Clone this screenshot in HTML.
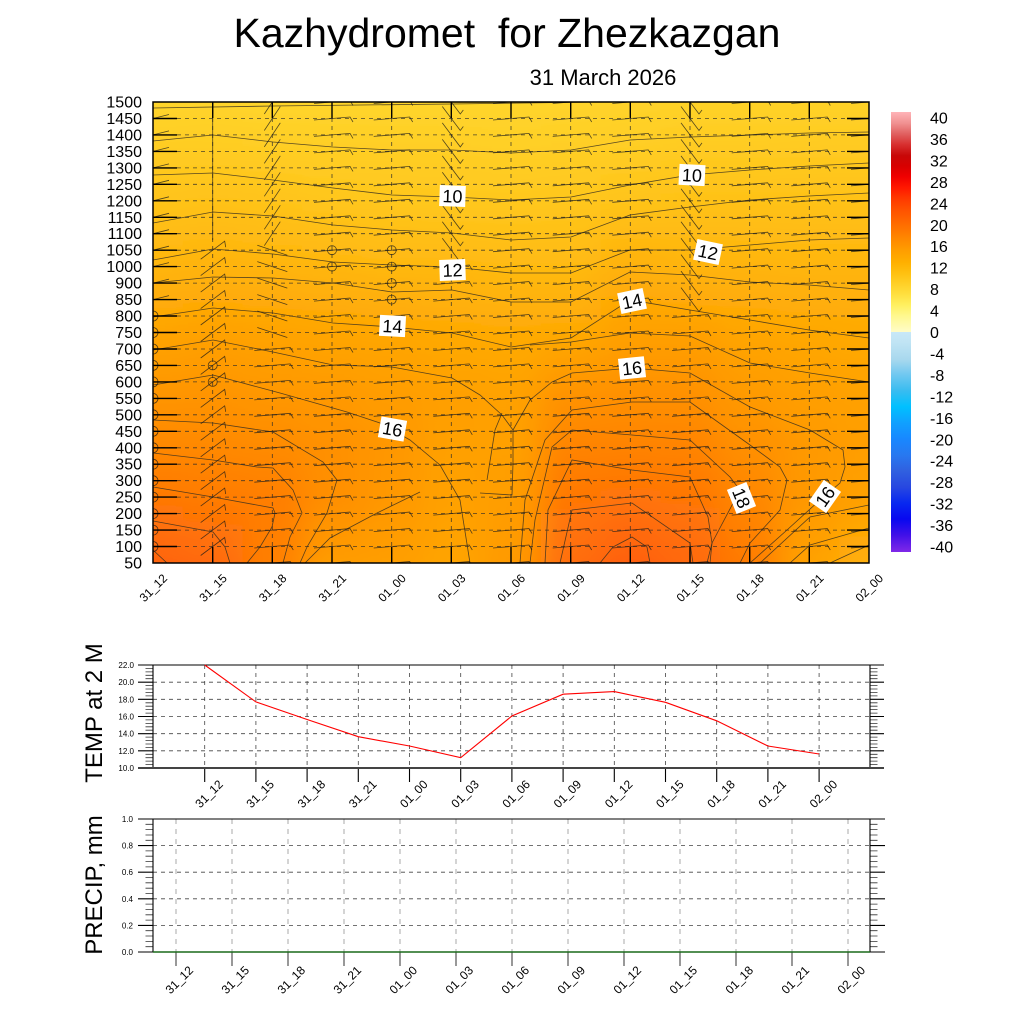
<!DOCTYPE html>
<html><head><meta charset="utf-8"><style>html,body{margin:0;padding:0;background:#fff}svg{display:block}</style></head><body>
<svg xmlns="http://www.w3.org/2000/svg" width="1024" height="1024" viewBox="0 0 1024 1024" font-family="'Liberation Sans', Arial, sans-serif">
<defs>
<linearGradient id="g0" gradientUnits="userSpaceOnUse" x1="0" y1="102" x2="0" y2="563"><stop offset="0" stop-color="rgb(255,213,44)"/><stop offset=".104" stop-color="rgb(255,204,35)"/><stop offset=".213" stop-color="rgb(255,196,26)"/><stop offset=".358" stop-color="rgb(255,181,14)"/><stop offset=".495" stop-color="rgb(255,165,3)"/><stop offset=".646" stop-color="rgb(255,148,0)"/><stop offset=".755" stop-color="rgb(255,135,0)"/><stop offset=".863" stop-color="rgb(255,120,6)"/><stop offset="1" stop-color="rgb(255,100,14)"/></linearGradient>
<linearGradient id="g1" gradientUnits="userSpaceOnUse" x1="0" y1="102" x2="0" y2="563"><stop offset="0" stop-color="rgb(255,212,43)"/><stop offset=".104" stop-color="rgb(255,204,34)"/><stop offset=".213" stop-color="rgb(255,194,25)"/><stop offset=".358" stop-color="rgb(255,179,12)"/><stop offset=".495" stop-color="rgb(255,162,2)"/><stop offset=".646" stop-color="rgb(255,147,0)"/><stop offset=".755" stop-color="rgb(255,136,0)"/><stop offset=".863" stop-color="rgb(255,123,4)"/><stop offset="1" stop-color="rgb(255,106,11)"/></linearGradient>
<linearGradient id="g2" gradientUnits="userSpaceOnUse" x1="0" y1="102" x2="0" y2="563"><stop offset="0" stop-color="rgb(255,213,44)"/><stop offset=".104" stop-color="rgb(255,205,36)"/><stop offset=".213" stop-color="rgb(255,196,26)"/><stop offset=".358" stop-color="rgb(255,180,13)"/><stop offset=".495" stop-color="rgb(255,164,3)"/><stop offset=".646" stop-color="rgb(255,150,0)"/><stop offset=".755" stop-color="rgb(255,138,0)"/><stop offset=".863" stop-color="rgb(255,126,3)"/><stop offset="1" stop-color="rgb(255,127,3)"/></linearGradient>
<linearGradient id="g3" gradientUnits="userSpaceOnUse" x1="0" y1="102" x2="0" y2="563"><stop offset="0" stop-color="rgb(255,213,44)"/><stop offset=".104" stop-color="rgb(255,206,36)"/><stop offset=".213" stop-color="rgb(255,198,28)"/><stop offset=".358" stop-color="rgb(255,182,15)"/><stop offset=".495" stop-color="rgb(255,166,3)"/><stop offset=".646" stop-color="rgb(255,152,0)"/><stop offset=".755" stop-color="rgb(255,144,0)"/><stop offset=".863" stop-color="rgb(255,143,0)"/><stop offset="1" stop-color="rgb(255,156,0)"/></linearGradient>
<linearGradient id="g4" gradientUnits="userSpaceOnUse" x1="0" y1="102" x2="0" y2="563"><stop offset="0" stop-color="rgb(255,213,44)"/><stop offset=".104" stop-color="rgb(255,206,37)"/><stop offset=".213" stop-color="rgb(255,199,29)"/><stop offset=".358" stop-color="rgb(255,184,16)"/><stop offset=".495" stop-color="rgb(255,167,4)"/><stop offset=".646" stop-color="rgb(255,156,0)"/><stop offset=".755" stop-color="rgb(255,151,0)"/><stop offset=".863" stop-color="rgb(255,152,0)"/><stop offset="1" stop-color="rgb(255,158,1)"/></linearGradient>
<linearGradient id="g5" gradientUnits="userSpaceOnUse" x1="0" y1="102" x2="0" y2="563"><stop offset="0" stop-color="rgb(255,213,44)"/><stop offset=".104" stop-color="rgb(255,206,37)"/><stop offset=".213" stop-color="rgb(255,200,30)"/><stop offset=".358" stop-color="rgb(255,184,16)"/><stop offset=".495" stop-color="rgb(255,170,5)"/><stop offset=".646" stop-color="rgb(255,159,1)"/><stop offset=".755" stop-color="rgb(255,160,1)"/><stop offset=".863" stop-color="rgb(255,161,2)"/><stop offset="1" stop-color="rgb(255,164,3)"/></linearGradient>
<linearGradient id="g6" gradientUnits="userSpaceOnUse" x1="0" y1="102" x2="0" y2="563"><stop offset="0" stop-color="rgb(255,213,44)"/><stop offset=".104" stop-color="rgb(255,207,38)"/><stop offset=".213" stop-color="rgb(255,200,30)"/><stop offset=".358" stop-color="rgb(255,186,17)"/><stop offset=".495" stop-color="rgb(255,171,6)"/><stop offset=".646" stop-color="rgb(255,161,1)"/><stop offset=".755" stop-color="rgb(255,160,1)"/><stop offset=".863" stop-color="rgb(255,157,0)"/><stop offset="1" stop-color="rgb(255,154,0)"/></linearGradient>
<linearGradient id="g7" gradientUnits="userSpaceOnUse" x1="0" y1="102" x2="0" y2="563"><stop offset="0" stop-color="rgb(255,212,43)"/><stop offset=".104" stop-color="rgb(255,206,37)"/><stop offset=".213" stop-color="rgb(255,199,29)"/><stop offset=".358" stop-color="rgb(255,186,17)"/><stop offset=".495" stop-color="rgb(255,170,5)"/><stop offset=".646" stop-color="rgb(255,145,0)"/><stop offset=".755" stop-color="rgb(255,131,1)"/><stop offset=".863" stop-color="rgb(255,119,6)"/><stop offset="1" stop-color="rgb(255,109,10)"/></linearGradient>
<linearGradient id="g8" gradientUnits="userSpaceOnUse" x1="0" y1="102" x2="0" y2="563"><stop offset="0" stop-color="rgb(255,211,42)"/><stop offset=".104" stop-color="rgb(255,205,36)"/><stop offset=".213" stop-color="rgb(255,196,26)"/><stop offset=".358" stop-color="rgb(255,177,11)"/><stop offset=".495" stop-color="rgb(255,161,1)"/><stop offset=".646" stop-color="rgb(255,143,0)"/><stop offset=".755" stop-color="rgb(255,130,2)"/><stop offset=".863" stop-color="rgb(255,115,8)"/><stop offset="1" stop-color="rgb(255,96,16)"/></linearGradient>
<linearGradient id="g9" gradientUnits="userSpaceOnUse" x1="0" y1="102" x2="0" y2="563"><stop offset="0" stop-color="rgb(255,210,40)"/><stop offset=".104" stop-color="rgb(255,203,33)"/><stop offset=".213" stop-color="rgb(255,194,24)"/><stop offset=".358" stop-color="rgb(255,180,13)"/><stop offset=".495" stop-color="rgb(255,161,2)"/><stop offset=".646" stop-color="rgb(255,143,0)"/><stop offset=".755" stop-color="rgb(255,131,1)"/><stop offset=".863" stop-color="rgb(255,118,6)"/><stop offset="1" stop-color="rgb(255,105,12)"/></linearGradient>
<linearGradient id="g10" gradientUnits="userSpaceOnUse" x1="0" y1="102" x2="0" y2="563"><stop offset="0" stop-color="rgb(255,210,40)"/><stop offset=".104" stop-color="rgb(255,203,33)"/><stop offset=".213" stop-color="rgb(255,194,24)"/><stop offset=".358" stop-color="rgb(255,180,13)"/><stop offset=".495" stop-color="rgb(255,166,3)"/><stop offset=".646" stop-color="rgb(255,153,0)"/><stop offset=".755" stop-color="rgb(255,143,0)"/><stop offset=".863" stop-color="rgb(255,134,0)"/><stop offset="1" stop-color="rgb(255,124,4)"/></linearGradient>
<linearGradient id="g11" gradientUnits="userSpaceOnUse" x1="0" y1="102" x2="0" y2="563"><stop offset="0" stop-color="rgb(255,210,40)"/><stop offset=".104" stop-color="rgb(255,202,33)"/><stop offset=".213" stop-color="rgb(255,194,24)"/><stop offset=".358" stop-color="rgb(255,181,14)"/><stop offset=".495" stop-color="rgb(255,168,4)"/><stop offset=".646" stop-color="rgb(255,158,1)"/><stop offset=".755" stop-color="rgb(255,153,0)"/><stop offset=".863" stop-color="rgb(255,153,0)"/><stop offset="1" stop-color="rgb(255,161,2)"/></linearGradient>
<linearGradient id="g12" gradientUnits="userSpaceOnUse" x1="0" y1="102" x2="0" y2="563"><stop offset="0" stop-color="rgb(255,210,40)"/><stop offset=".104" stop-color="rgb(255,202,33)"/><stop offset=".213" stop-color="rgb(255,194,24)"/><stop offset=".358" stop-color="rgb(255,181,14)"/><stop offset=".495" stop-color="rgb(255,170,5)"/><stop offset=".646" stop-color="rgb(255,161,2)"/><stop offset=".755" stop-color="rgb(255,158,1)"/><stop offset=".863" stop-color="rgb(255,161,2)"/><stop offset="1" stop-color="rgb(255,176,10)"/></linearGradient>
<linearGradient id="cb" x1="0" y1="0" x2="0" y2="1">
<stop offset="0" stop-color="#ffb4b8"/><stop offset=".026" stop-color="#f09090"/><stop offset=".05" stop-color="#e06060"/><stop offset=".074" stop-color="#d83030"/><stop offset=".099" stop-color="#c80808"/><stop offset=".123" stop-color="#d80000"/><stop offset=".147" stop-color="#f00000"/><stop offset=".172" stop-color="#ff1800"/><stop offset=".196" stop-color="#ff3800"/><stop offset=".22" stop-color="#ff5000"/><stop offset=".245" stop-color="#ff6400"/><stop offset=".269" stop-color="#ff7800"/><stop offset=".293" stop-color="#ff8c00"/><stop offset=".318" stop-color="#ffa000"/><stop offset=".342" stop-color="#ffb000"/><stop offset=".366" stop-color="#ffc010"/><stop offset=".391" stop-color="#ffd028"/><stop offset=".415" stop-color="#ffe040"/><stop offset=".439" stop-color="#fff060"/><stop offset=".464" stop-color="#fff890"/><stop offset=".5" stop-color="#fffcc8"/><stop offset=".5" stop-color="#c8e8f8"/><stop offset=".524" stop-color="#c0e4f4"/><stop offset=".5625" stop-color="#a8d8ee"/><stop offset=".597" stop-color="#70c8f0"/><stop offset=".634" stop-color="#38bcf0"/><stop offset=".67" stop-color="#00c0ff"/><stop offset=".707" stop-color="#10a0ff"/><stop offset=".743" stop-color="#1888ff"/><stop offset=".78" stop-color="#2878f0"/><stop offset=".816" stop-color="#3060e0"/><stop offset=".852" stop-color="#2848e0"/><stop offset=".889" stop-color="#0828f0"/><stop offset=".925" stop-color="#0808f0"/><stop offset=".961" stop-color="#4010e8"/><stop offset="1" stop-color="#8028e8"/>
</linearGradient>
<filter id="hb" filterUnits="userSpaceOnUse" x="60" y="90" width="900" height="490"><feGaussianBlur stdDeviation="16 0"/></filter>
<clipPath id="cp"><rect x="153" y="102" width="716" height="461"/></clipPath>
<path id="bhA" d="M-18 564.5l36-3l3 5M-18 548l36-3l3 5M-18 531.6l36-3l3 5M-18 515.1l36-3l3 5M-18 498.6l36-3l3 5M-18 482.2l36-3l3 5M-18 465.7l36-3l3 5M-18 449.3l36-3l3 5M-18 432.8l36-3l3 5M-18 416.3l36-3l3 5M-18 399.9l36-3l3 5M-18 383.4l36-3l3 5M-18 366.9l36-3l3 5M-18 350.5l36-3l3 5"/>
<path id="bhB" d="M-18 334l36-3l3 5M-18 317.5l36-3l3 5"/>
<path id="bhC" d="M-18 301.1l36-3l3 5M-18 284.6l36-3l3 5M-18 268.1l36-3l3 5"/>
<path id="bhD" d="M-18 251.7l36-3l3 5M-18 235.2l36-3l3 5M-18 218.8l36-3l3 5M-18 202.3l36-3l3 5M-18 185.8l36-3l3 5M-18 169.4l36-3l3 5M-18 152.9l36-3l3 5M-18 136.4l36-3l3 5M-18 120l36-3l3 5M-18 103.5l36-3l3 5"/>
<path id="bbC" d="M-9 287.6l18 24l3-4M-9 271.1l18 24l3-4M-9 254.6l18 24l3-4"/>
<path id="bbD" d="M-9 238.2l18 24l3-4M-9 221.7l18 24l3-4M-9 205.3l18 24l3-4M-9 188.8l18 24l3-4M-9 172.3l18 24l3-4M-9 155.9l18 24l3-4M-9 139.4l18 24l3-4M-9 122.9l18 24l3-4M-9 106.5l18 24l3-4M-9 90l18 24l3-4"/>
</defs>

<rect width="1024" height="1024" fill="#fff"/>

<!-- Title -->
<text x="507" y="47" font-size="41" text-anchor="middle" xml:space="preserve" style="white-space:pre" fill="#000">Kazhydromet  for Zhezkazgan</text>
<text x="603" y="85" font-size="22" text-anchor="middle" fill="#000">31 March 2026</text>

<!-- Main field -->
<g clip-path="url(#cp)">
<g filter="url(#hb)">
<rect x="60" y="102" width="123" height="461" fill="url(#g0)"/>
<rect x="182.8" y="102" width="60" height="461" fill="url(#g1)"/>
<rect x="242.5" y="102" width="60" height="461" fill="url(#g2)"/>
<rect x="302.2" y="102" width="60" height="461" fill="url(#g3)"/>
<rect x="361.8" y="102" width="60" height="461" fill="url(#g4)"/>
<rect x="421.5" y="102" width="60" height="461" fill="url(#g5)"/>
<rect x="481.2" y="102" width="60" height="461" fill="url(#g6)"/>
<rect x="540.8" y="102" width="60" height="461" fill="url(#g7)"/>
<rect x="600.5" y="102" width="60" height="461" fill="url(#g8)"/>
<rect x="660.2" y="102" width="60" height="461" fill="url(#g9)"/>
<rect x="719.8" y="102" width="60" height="461" fill="url(#g10)"/>
<rect x="779.5" y="102" width="60" height="461" fill="url(#g11)"/>
<rect x="839.2" y="102" width="121" height="461" fill="url(#g12)"/>
</g>

<!-- contours -->
<g fill="none" stroke="#3a3020" stroke-width="0.8" stroke-opacity="0.85">
<polyline points="153,108 273,106 452,104 600,102"/>
<polyline points="153,141 213,135 273,142 333,147 392,150 452,150 511,153 571,150 630,140 690,137 750,135 809,133 869,132"/>
<polyline points="153,175 213,173 273,180 333,188 392,195 452,197 511,200 571,197 630,185 690,175 750,170 809,166 869,163"/>
<polyline points="153,223 213,212 273,216 333,225 392,230 452,233 511,240 571,237 630,215 690,207 750,200 809,196 869,193"/>
<polyline points="153,260 213,249 273,254 333,262 392,265 452,267 511,273 571,273 630,250 690,250 750,245 809,240 869,238"/>
<polyline points="153,283 213,277 273,278 333,283 392,292 452,290 511,302 571,302 630,272 690,275 750,282 809,285 869,290"/>
<polyline points="153,317 213,308 273,313 333,323 392,327 452,333 511,347 571,338 630,300 690,310 750,320 809,330 869,338"/>
<polyline points="153,350 213,340 273,352 333,365 392,367 452,378 480,395 502,415 513,430 513,463 512,495 480,493"/>
<polyline points="530,345 571,342 630,333 690,336 750,363 810,373 869,382"/>
<polyline points="153,385 213,375 280,393 347,412 380,423 410,440 440,465 460,500 470,563"/>
<polyline points="487,480 495,430 502,413"/>
<polyline points="513,430 530,400 552,382 572,373 632,368 690,373 750,407 810,430 843,450 845,467 840,483 820,500 787,530 750,563"/>
<polyline points="153,420 213,423 273,432 323,462 337,480 327,513 307,547 300,563"/>
<polyline points="520,563 525,500 545,440 572,410 632,402 690,402 750,445 780,467 787,480 780,510 750,543 740,563"/>
<polyline points="153,453 213,460 257,467 273,468 293,490 302,513 290,537 283,563"/>
<polyline points="530,563 535,520 552,447 572,430 632,435 690,440 730,477 740,490 712,543 707,563"/>
<polyline points="153,487 213,497 273,508 275,513 272,527 260,547 247,563"/>
<polyline points="545,563 548,510 572,460 632,470 690,477 708,517 712,543 710,563"/>
<polyline points="153,521 213,532 225,547 230,563"/>
<polyline points="560,563 572,510 632,503 690,543 693,563"/>
<polyline points="153,550 167,563"/>
<polyline points="600,563 613,547 632,537 647,547 650,563"/>
<polyline points="305,563 330,538 377,513 420,492"/>
<polyline points="760,563 810,517 869,505"/>
<polyline points="790,563 810,545 869,528"/>
<polyline points="830,563 869,545"/>
</g>

<!-- dashed grid -->
<path fill="none" stroke="#2a2a2a" stroke-width="0.8" stroke-dasharray="4 4" stroke-opacity="0.85" d="M153 546.5H869M153 530.1H869M153 513.6H869M153 497.1H869M153 480.7H869M153 464.2H869M153 447.8H869M153 431.3H869M153 414.8H869M153 398.4H869M153 381.9H869M153 365.4H869M153 349H869M153 332.5H869M153 316H869M153 299.6H869M153 283.1H869M153 266.6H869M153 250.2H869M153 233.7H869M153 217.3H869M153 200.8H869M153 184.3H869M153 167.9H869M153 151.4H869M153 134.9H869M153 118.5H869M212.7 102V563M272.3 102V563M332 102V563M391.7 102V563M451.3 102V563M511 102V563M570.7 102V563M630.3 102V563M690 102V563M749.7 102V563M809.3 102V563"/>

<!-- wind barbs -->
<g fill="none" stroke="#1a1a1a" stroke-width="0.8" stroke-opacity="0.75">
<use href="#bhA" x="272.3"/>
<use href="#bhA" x="332"/><use href="#bhB" x="332"/><use href="#bhC" x="332"/><use href="#bhD" x="332"/>
<use href="#bhA" x="391.7"/><use href="#bhB" x="391.7"/><use href="#bhC" x="391.7"/><use href="#bhD" x="391.7"/>
<use href="#bhA" x="451.3"/><use href="#bhB" x="451.3"/><use href="#bhC" x="451.3"/><use href="#bbD" x="451.3"/>
<use href="#bhA" x="511"/><use href="#bhB" x="511"/><use href="#bhC" x="511"/><use href="#bhD" x="511"/>
<use href="#bhA" x="570.7"/><use href="#bhB" x="570.7"/><use href="#bhC" x="570.7"/><use href="#bhD" x="570.7"/>
<use href="#bhA" x="630.3"/><use href="#bhB" x="630.3"/><use href="#bhC" x="630.3"/><use href="#bhD" x="630.3"/>
<use href="#bhA" x="690"/><use href="#bhB" x="690"/><use href="#bbC" x="690"/><use href="#bbD" x="690"/>
<use href="#bhA" x="749.7"/><use href="#bhB" x="749.7"/><use href="#bhC" x="749.7"/><use href="#bhD" x="749.7"/>
<use href="#bhA" x="809.3"/><use href="#bhB" x="809.3"/><use href="#bhC" x="809.3"/><use href="#bhD" x="809.3"/>
<use href="#bhA" x="869"/><use href="#bhB" x="869"/><use href="#bhC" x="869"/><use href="#bhD" x="869"/>
<path transform="translate(212.7 0)" d="M-12 555.5l24-18l1 6M-12 539.1l24-18l1 6M-12 522.6l24-18l1 6M-12 506.1l24-18l1 6M-12 489.7l24-18l1 6M-12 473.2l24-18l1 6M-12 456.8l24-18l1 6M-12 440.3l24-18l1 6M-12 423.8l24-18l1 6M-12 407.4l24-18l1 6M-12 390.9l24-18l1 6M-12 374.4l24-18l1 6M-12 358l24-18l1 6M-12 341.5l24-18l1 6M-12 325l24-18l1 6M-12 308.6l24-18l1 6M-12 292.1l24-18l1 6M-12 275.6l24-18l1 6M-12 259.2l24-18l1 6M0 102V240"/>
<path transform="translate(272.3 0)" d="M-8 245.7l16-24M-8 229.3l16-24M-8 212.8l16-24M-8 196.3l16-24M-8 179.9l16-24M-8 163.4l16-24M-8 146.9l16-24M-8 130.5l16-24M-8 114l16-24M-15 327.5l30 10M-15 311l30 10M-15 294.6l30 10M-15 278.1l30 10M-15 261.6l30 10M-15 245.2l30 10"/>
<path transform="translate(153 0)" d="M0 299.6l16-4M0 283.1l16-4M0 266.6l16-4M0 250.2l16-4M0 233.7l16-4M0 217.3l16-4M0 200.8l16-4M0 184.3l16-4M0 167.9l16-4M0 151.4l16-4M0 134.9l16-4M0 118.5l16-4"/>
<g stroke-width="0.8">
<circle cx="153" cy="546.5" r="5"/><circle cx="153" cy="530.1" r="5"/><circle cx="153" cy="513.6" r="5"/><circle cx="153" cy="497.1" r="5"/><circle cx="153" cy="480.7" r="5"/><circle cx="153" cy="464.2" r="5"/><circle cx="153" cy="447.8" r="5"/><circle cx="153" cy="431.3" r="5"/><circle cx="153" cy="414.8" r="5"/><circle cx="153" cy="398.4" r="5"/><circle cx="153" cy="381.9" r="5"/><circle cx="153" cy="365.4" r="5"/><circle cx="153" cy="349" r="5"/><circle cx="153" cy="332.5" r="5"/><circle cx="153" cy="316" r="5"/>
<circle cx="332" cy="250.2" r="4.5"/><circle cx="332" cy="266.6" r="4.5"/><circle cx="391.7" cy="250.2" r="4.5"/><circle cx="391.7" cy="266.6" r="4.5"/><circle cx="391.7" cy="283.1" r="4.5"/><circle cx="391.7" cy="299.6" r="4.5"/><circle cx="212.7" cy="365.4" r="4.5"/><circle cx="212.7" cy="381.9" r="4.5"/>
</g>
</g>

<!-- contour labels -->
<g font-size="18" text-anchor="middle" fill="#000">
<g transform="translate(452.5 196) rotate(2)"><rect x="-13" y="-10.5" width="26" height="21" fill="#fff"/><text y="6.5">10</text></g>
<g transform="translate(452.5 270) rotate(-2)"><rect x="-13" y="-10.5" width="26" height="21" fill="#fff"/><text y="6.5">12</text></g>
<g transform="translate(392.5 326) rotate(3)"><rect x="-13" y="-10.5" width="26" height="21" fill="#fff"/><text y="6.5">14</text></g>
<g transform="translate(392.5 429) rotate(10)"><rect x="-13" y="-10.5" width="26" height="21" fill="#fff"/><text y="6.5">16</text></g>
<g transform="translate(692 175) rotate(3)"><rect x="-13" y="-10.5" width="26" height="21" fill="#fff"/><text y="6.5">10</text></g>
<g transform="translate(708 252) rotate(12)"><rect x="-13" y="-10.5" width="26" height="21" fill="#fff"/><text y="6.5">12</text></g>
<g transform="translate(632 301) rotate(-12)"><rect x="-13" y="-10.5" width="26" height="21" fill="#fff"/><text y="6.5">14</text></g>
<g transform="translate(632 368) rotate(-6)"><rect x="-13" y="-10.5" width="26" height="21" fill="#fff"/><text y="6.5">16</text></g>
<g transform="translate(741.5 498) rotate(68)"><rect x="-13" y="-10.5" width="26" height="21" fill="#fff"/><text y="6.5">18</text></g>
<g transform="translate(825 496.5) rotate(-55)"><rect x="-13" y="-10.5" width="26" height="21" fill="#fff"/><text y="6.5">16</text></g>
</g>
</g>

<!-- main axis ticks and frame -->
<path fill="none" stroke="#000" stroke-width="1.4" d="M153 546.5h24M153 530.1h24M153 513.6h24M153 497.1h24M153 480.7h24M153 464.2h24M153 447.8h24M153 431.3h24M153 414.8h24M153 398.4h24M153 381.9h24M153 365.4h24M153 349h24M153 332.5h24M153 316h24M153 299.6h24M153 283.1h24M153 266.6h24M153 250.2h24M153 233.7h24M153 217.3h24M153 200.8h24M153 184.3h24M153 167.9h24M153 151.4h24M153 134.9h24M153 118.5h24M869 546.5h-22M869 530.1h-22M869 513.6h-22M869 497.1h-22M869 480.7h-22M869 464.2h-22M869 447.8h-22M869 431.3h-22M869 414.8h-22M869 398.4h-22M869 381.9h-22M869 365.4h-22M869 349h-22M869 332.5h-22M869 316h-22M869 299.6h-22M869 283.1h-22M869 266.6h-22M869 250.2h-22M869 233.7h-22M869 217.3h-22M869 200.8h-22M869 184.3h-22M869 167.9h-22M869 151.4h-22M869 134.9h-22M869 118.5h-22M212.7 102v16M272.3 102v16M332 102v16M391.7 102v16M451.3 102v16M511 102v16M570.7 102v16M630.3 102v16M690 102v16M749.7 102v16M809.3 102v16M212.7 563v-16M272.3 563v-16M332 563v-16M391.7 563v-16M451.3 563v-16M511 563v-16M570.7 563v-16M630.3 563v-16M690 563v-16M749.7 563v-16M809.3 563v-16"/>
<rect x="153" y="102" width="716" height="461" fill="none" stroke="#000" stroke-width="1.5"/>

<!-- main y labels -->
<g font-size="16" text-anchor="end" fill="#000">
<text x="142" y="568.5">50</text><text x="142" y="552">100</text><text x="142" y="535.6">150</text><text x="142" y="519.1">200</text><text x="142" y="502.6">250</text><text x="142" y="486.2">300</text><text x="142" y="469.7">350</text><text x="142" y="453.3">400</text><text x="142" y="436.8">450</text><text x="142" y="420.3">500</text><text x="142" y="403.9">550</text><text x="142" y="387.4">600</text><text x="142" y="370.9">650</text><text x="142" y="354.5">700</text><text x="142" y="338">750</text><text x="142" y="321.5">800</text><text x="142" y="305.1">850</text><text x="142" y="288.6">900</text><text x="142" y="272.1">1000</text><text x="142" y="255.7">1050</text><text x="142" y="239.2">1100</text><text x="142" y="222.8">1150</text><text x="142" y="206.3">1200</text><text x="142" y="189.8">1250</text><text x="142" y="173.4">1300</text><text x="142" y="156.9">1350</text><text x="142" y="140.4">1400</text><text x="142" y="124">1450</text><text x="142" y="107.5">1500</text>
</g>

<!-- main x labels -->
<g font-size="12" text-anchor="end" fill="#000">
<text transform="translate(168 579) rotate(-45)">31_12</text>
<text transform="translate(227.7 579) rotate(-45)">31_15</text>
<text transform="translate(287.3 579) rotate(-45)">31_18</text>
<text transform="translate(347 579) rotate(-45)">31_21</text>
<text transform="translate(406.7 579) rotate(-45)">01_00</text>
<text transform="translate(466.3 579) rotate(-45)">01_03</text>
<text transform="translate(526 579) rotate(-45)">01_06</text>
<text transform="translate(585.7 579) rotate(-45)">01_09</text>
<text transform="translate(645.3 579) rotate(-45)">01_12</text>
<text transform="translate(705 579) rotate(-45)">01_15</text>
<text transform="translate(764.7 579) rotate(-45)">01_18</text>
<text transform="translate(824.3 579) rotate(-45)">01_21</text>
<text transform="translate(884 579) rotate(-45)">02_00</text>
</g>

<!-- colorbar -->
<rect x="891" y="112" width="20" height="440" fill="url(#cb)"/>
<g font-size="16" fill="#000">
<text x="930" y="123.5">40</text><text x="930" y="145">36</text><text x="930" y="166.4">32</text><text x="930" y="187.9">28</text><text x="930" y="209.3">24</text><text x="930" y="230.8">20</text><text x="930" y="252.2">16</text><text x="930" y="273.7">12</text><text x="930" y="295.1">8</text><text x="930" y="316.6">4</text><text x="930" y="338">0</text><text x="930" y="359.5">-4</text><text x="930" y="380.9">-8</text><text x="930" y="402.4">-12</text><text x="930" y="423.8">-16</text><text x="930" y="445.3">-20</text><text x="930" y="466.7">-24</text><text x="930" y="488.2">-28</text><text x="930" y="509.6">-32</text><text x="930" y="531.1">-36</text><text x="930" y="552.5">-40</text>
</g>

<!-- TEMP chart -->
<path fill="none" stroke="#444" stroke-width="0.8" stroke-dasharray="4 4" d="M153 682.2H870M153 699.3H870M153 716.5H870M153 733.7H870M153 750.8H870M204.7 665V768M255.9 665V768M307.1 665V768M358.3 665V768M409.5 665V768M460.7 665V768M511.9 665V768M563.1 665V768M614.3 665V768M665.5 665V768M716.7 665V768M767.9 665V768M819.1 665V768"/>
<path fill="none" stroke="#333" stroke-width="0.8" d="M145.5 668.4h7.5M145.5 671.9h7.5M145.5 675.3h7.5M145.5 678.7h7.5M145.5 685.6h7.5M145.5 689h7.5M145.5 692.5h7.5M145.5 695.9h7.5M145.5 702.8h7.5M145.5 706.2h7.5M145.5 709.6h7.5M145.5 713.1h7.5M145.5 719.9h7.5M145.5 723.4h7.5M145.5 726.8h7.5M145.5 730.2h7.5M145.5 737.1h7.5M145.5 740.5h7.5M145.5 744h7.5M145.5 747.4h7.5M145.5 754.3h7.5M145.5 757.7h7.5M145.5 761.1h7.5M145.5 764.6h7.5M870 668.4h7.5M870 671.9h7.5M870 675.3h7.5M870 678.7h7.5M870 685.6h7.5M870 689h7.5M870 692.5h7.5M870 695.9h7.5M870 702.8h7.5M870 706.2h7.5M870 709.6h7.5M870 713.1h7.5M870 719.9h7.5M870 723.4h7.5M870 726.8h7.5M870 730.2h7.5M870 737.1h7.5M870 740.5h7.5M870 744h7.5M870 747.4h7.5M870 754.3h7.5M870 757.7h7.5M870 761.1h7.5M870 764.6h7.5"/>
<path fill="none" stroke="#000" stroke-width="1.1" d="M138 665H884M138 682.2h15M138 699.3h15M138 716.5h15M138 733.7h15M138 750.8h15M870 682.2h14M870 699.3h14M870 716.5h14M870 733.7h14M870 750.8h14M153 665V768M870 665V768M204.7 768v14M255.9 768v14M307.1 768v14M358.3 768v14M409.5 768v14M460.7 768v14M511.9 768v14M563.1 768v14M614.3 768v14M665.5 768v14M716.7 768v14M767.9 768v14M819.1 768v14"/>
<path fill="none" stroke="#444" stroke-width="2" d="M138 768H884"/>
<polyline fill="none" stroke="#ff0000" stroke-width="1.1" points="204.7,665 255.9,701.9 307.1,719.5 358.3,736.7 409.5,746 460.7,757.7 511.9,716 563.1,694.2 614.3,691.6 665.5,702.3 716.7,720.8 767.9,746 819.1,754"/>
<g font-size="8" text-anchor="end" fill="#000">
<text x="134" y="668">22.0</text><text x="134" y="685.2">20.0</text><text x="134" y="702.3">18.0</text><text x="134" y="719.5">16.0</text><text x="134" y="736.7">14.0</text><text x="134" y="753.8">12.0</text><text x="134" y="771">10.0</text>
</g>
<text transform="translate(102 713) rotate(-90)" font-size="24" text-anchor="middle" fill="#000">TEMP at 2 M</text>
<g font-size="12" text-anchor="end" fill="#000">
<text transform="translate(223.7 785) rotate(-45)">31_12</text>
<text transform="translate(274.9 785) rotate(-45)">31_15</text>
<text transform="translate(326.1 785) rotate(-45)">31_18</text>
<text transform="translate(377.3 785) rotate(-45)">31_21</text>
<text transform="translate(428.5 785) rotate(-45)">01_00</text>
<text transform="translate(479.7 785) rotate(-45)">01_03</text>
<text transform="translate(530.9 785) rotate(-45)">01_06</text>
<text transform="translate(582.1 785) rotate(-45)">01_09</text>
<text transform="translate(633.3 785) rotate(-45)">01_12</text>
<text transform="translate(684.5 785) rotate(-45)">01_15</text>
<text transform="translate(735.7 785) rotate(-45)">01_18</text>
<text transform="translate(786.9 785) rotate(-45)">01_21</text>
<text transform="translate(838.1 785) rotate(-45)">02_00</text>
</g>

<!-- PRECIP chart -->
<path fill="none" stroke="#444" stroke-width="0.8" stroke-dasharray="4 4" d="M153 845.6H870M153 872.2H870M153 898.8H870M153 925.4H870"/>
<path fill="none" stroke="#aaa" stroke-width="1" stroke-dasharray="5 5" d="M176 819V952M232 819V952M288 819V952M344 819V952M400 819V952M456 819V952M512 819V952M568 819V952M624 819V952M680 819V952M736 819V952M792 819V952M848 819V952"/>
<path fill="none" stroke="#333" stroke-width="0.8" d="M145.5 824.3h7.5M145.5 829.6h7.5M145.5 835h7.5M145.5 840.3h7.5M145.5 850.9h7.5M145.5 856.2h7.5M145.5 861.6h7.5M145.5 866.9h7.5M145.5 877.5h7.5M145.5 882.8h7.5M145.5 888.2h7.5M145.5 893.5h7.5M145.5 904.1h7.5M145.5 909.4h7.5M145.5 914.8h7.5M145.5 920.1h7.5M145.5 930.7h7.5M145.5 936h7.5M145.5 941.4h7.5M145.5 946.7h7.5M870 824.3h7.5M870 829.6h7.5M870 835h7.5M870 840.3h7.5M870 850.9h7.5M870 856.2h7.5M870 861.6h7.5M870 866.9h7.5M870 877.5h7.5M870 882.8h7.5M870 888.2h7.5M870 893.5h7.5M870 904.1h7.5M870 909.4h7.5M870 914.8h7.5M870 920.1h7.5M870 930.7h7.5M870 936h7.5M870 941.4h7.5M870 946.7h7.5"/>
<path fill="none" stroke="#000" stroke-width="1.1" d="M138 819H885M138 845.6h15M138 872.2h15M138 898.8h15M138 925.4h15M138 952h15M870 845.6h15M870 872.2h15M870 898.8h15M870 925.4h15M870 952h15M153 819V952M870 819V952"/>
<path fill="none" stroke="#777" stroke-width="1.5" d="M176 952v14M232 952v14M288 952v14M344 952v14M400 952v14M456 952v14M512 952v14M568 952v14M624 952v14M680 952v14M736 952v14M792 952v14M848 952v14"/>
<path fill="none" stroke="#1a6a1a" stroke-width="1.4" d="M153 952H870"/>
<g font-size="8" text-anchor="end" fill="#000">
<text x="133" y="822">1.0</text><text x="133" y="848.6">0.8</text><text x="133" y="875.2">0.6</text><text x="133" y="901.8">0.4</text><text x="133" y="928.4">0.2</text><text x="133" y="955">0.0</text>
</g>
<text transform="translate(102 885) rotate(-90)" font-size="24" text-anchor="middle" fill="#000">PRECIP, mm</text>
<g font-size="12" text-anchor="end" fill="#000">
<text transform="translate(194 971) rotate(-45)">31_12</text>
<text transform="translate(250 971) rotate(-45)">31_15</text>
<text transform="translate(306 971) rotate(-45)">31_18</text>
<text transform="translate(362 971) rotate(-45)">31_21</text>
<text transform="translate(418 971) rotate(-45)">01_00</text>
<text transform="translate(474 971) rotate(-45)">01_03</text>
<text transform="translate(530 971) rotate(-45)">01_06</text>
<text transform="translate(586 971) rotate(-45)">01_09</text>
<text transform="translate(642 971) rotate(-45)">01_12</text>
<text transform="translate(698 971) rotate(-45)">01_15</text>
<text transform="translate(754 971) rotate(-45)">01_18</text>
<text transform="translate(810 971) rotate(-45)">01_21</text>
<text transform="translate(866 971) rotate(-45)">02_00</text>
</g>
</svg>
</body></html>
